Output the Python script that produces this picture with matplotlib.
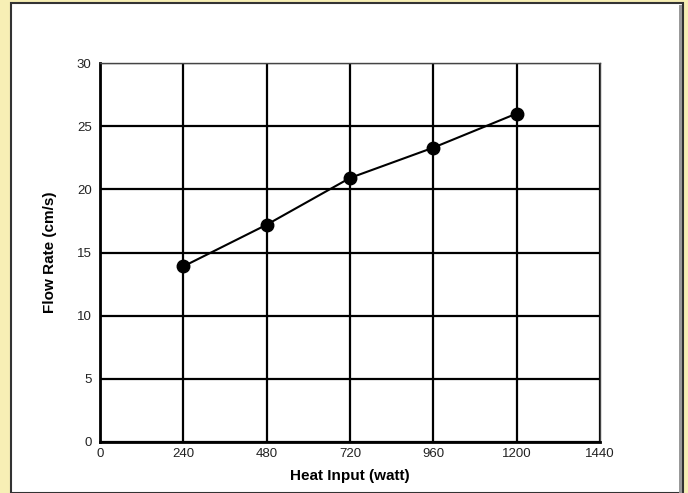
import matplotlib
matplotlib.use("Agg")
import matplotlib.pyplot as plt
from matplotlib.patches import Rectangle

heat_input = [240, 480, 720, 960, 1200]
flow_rate = [13.9, 17.2, 20.9, 23.3, 26.0]
x_ticks = [0, 240, 480, 720, 960, 1200, 1440]
y_ticks = [0, 5, 10, 15, 20, 25, 30]

plt.rcParams['font.family'] = ['Liberation Sans', 'DejaVu Sans']

fig = plt.figure(figsize=(6.88, 4.93), dpi=100)
fig.patch.set_facecolor('#F7EFB5')

W, H = 688, 493
# white panel with dark frame
fig.patches.append(Rectangle((11 / W, 0), (683 - 11) / W, (H - 3) / H, transform=fig.transFigure,
                             facecolor='white', edgecolor='#333333', linewidth=1.5, zorder=-2))
fig.patches.append(Rectangle((679 / W, 0), 3 / W, (H - 5) / H, transform=fig.transFigure,
                             facecolor='#999999', edgecolor='none', zorder=-1))

ax = fig.add_axes([100 / W, (H - 442) / H, 500 / W, 379 / H])
ax.set_zorder(1)
ax.set_facecolor('white')
ax.set_xlim(0, 1440)
ax.set_ylim(0, 30)
ax.set_xticks(x_ticks)
ax.set_yticks(y_ticks)
ax.set_xticklabels([str(v) for v in x_ticks], fontsize=9.5, color='#222222')
ax.set_yticklabels([str(v) for v in y_ticks], fontsize=9.5, color='#222222')
ax.tick_params(axis='x', length=0, pad=4.5)
ax.tick_params(axis='y', length=0, pad=6)
ax.grid(True, color='black', linewidth=1.6)
ax.set_axisbelow(True)
for s in ['left', 'bottom']:
    ax.spines[s].set_linewidth(2)
    ax.spines[s].set_color('black')
for s in ['top', 'right']:
    ax.spines[s].set_linewidth(1)
    ax.spines[s].set_color('#444444')

ax.plot(heat_input, flow_rate, color='black', linewidth=1.5, marker='o', markersize=9, zorder=3)

ax.set_xlabel('Heat Input (watt)', fontsize=11, fontweight='bold', labelpad=6.5)
ax.set_ylabel('Flow Rate (cm/s)', fontsize=11, fontweight='bold', labelpad=14)

fig.savefig('out.png', dpi=100, facecolor=fig.get_facecolor())
